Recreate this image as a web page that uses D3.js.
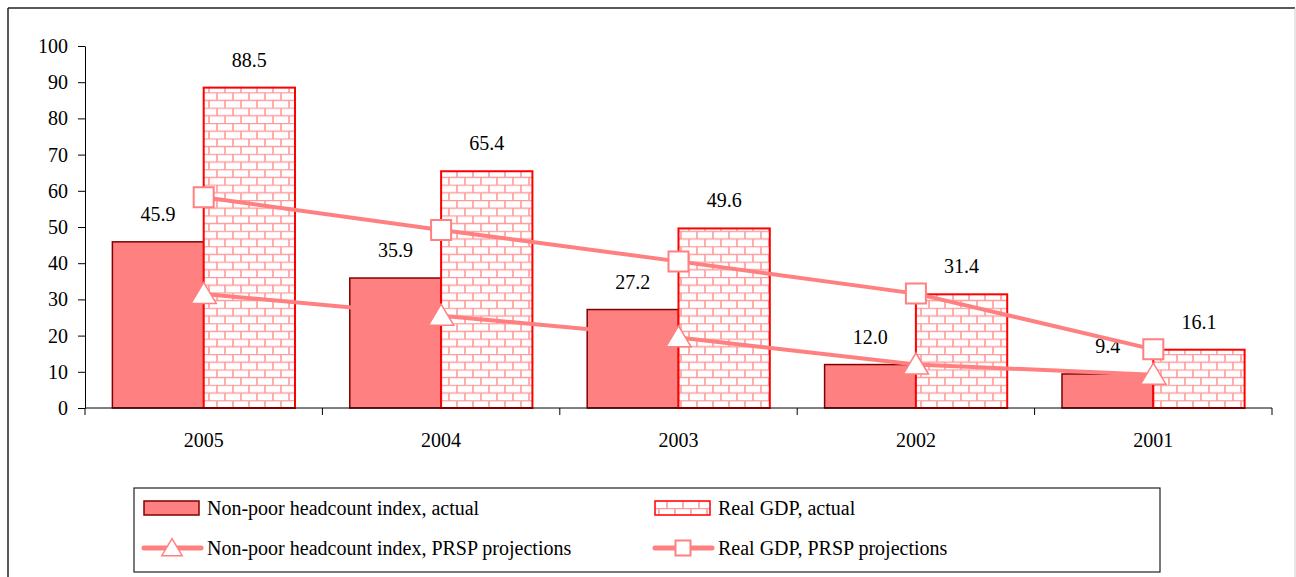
<!DOCTYPE html>
<html>
<head>
<meta charset="utf-8">
<script src="https://cdn.jsdelivr.net/npm/d3@7"></script>
<style>
  body { margin: 0; background: #fff; }
  #fig, #fig text { font-family: "Liberation Serif", "Times New Roman", serif !important; }
</style>
</head>
<body>
<svg id="fig" width="1296" height="577" font-family="Liberation Serif"></svg>
<script>
const years = ["2005", "2004", "2003", "2002", "2001"];
const nonPoorActual = [45.9, 35.9, 27.2, 12.0, 9.4];
const gdpActual = [88.5, 65.4, 49.6, 31.4, 16.1];
const nonPoorProj = [31.5, 25.5, 19.5, 12.0, 9.2];
const gdpProj = [58.2, 49.2, 40.5, 31.6, 16.2];
const yTicks = [0, 10, 20, 30, 40, 50, 60, 70, 80, 90, 100];

const svg = d3.select("#fig");
const margin = { top: 46, left: 85 };
const chartWidth = 1272 - margin.left;
const chartHeight = 408 - margin.top;

const lineColor = "#ff8080";

// all labels in a Times-like serif
function serif(sel) {
  sel.attr("font-size", 20).attr("fill", "#000")
    .attr("font-family", "Liberation Serif")
    .style("font-family", "\"Liberation Serif\"", "important");
}

// brick pattern for the GDP bars
const defs = svg.append("defs");
const brick = defs.append("pattern")
  .attr("id", "brick")
  .attr("patternUnits", "userSpaceOnUse")
  .attr("width", 16).attr("height", 15.4);
brick.append("rect").attr("width", 16).attr("height", 15.4).attr("fill", "#fff");
brick.append("path")
  .attr("d", "M0,0.5H16 M0,8.2H16 M4,0.5V8.2 M12,8.2V15.4")
  .attr("stroke", "#ff9a9a").attr("stroke-width", 1.6).attr("fill", "none");

// outer frame
svg.append("line").attr("x1", 8).attr("x2", 1295).attr("y1", 8).attr("y2", 8)
  .attr("stroke", "#222").attr("stroke-width", 1.5);
svg.append("line").attr("x1", 8).attr("x2", 8).attr("y1", 8).attr("y2", 577)
  .attr("stroke", "#222").attr("stroke-width", 1.5);
svg.append("line").attr("x1", 1295).attr("x2", 1295).attr("y1", 8).attr("y2", 577)
  .attr("stroke", "#ccc").attr("stroke-width", 1);

const g = svg.append("g")
  .attr("transform", `translate(${margin.left},${margin.top})`);

const x0 = d3.scaleBand().domain(years).range([0, chartWidth]);
const x1 = d3.scaleBand().domain(["np", "gdp"])
  .range([0, x0.bandwidth()]).paddingOuter(0.3).paddingInner(0);
const y = d3.scaleLinear().domain([0, 100]).range([chartHeight, 0]);

// bars
years.forEach((yr, i) => {
  const gx = x0(yr);
  g.append("rect")
    .attr("x", gx + x1("np"))
    .attr("y", y(nonPoorActual[i]))
    .attr("width", x1.bandwidth())
    .attr("height", chartHeight - y(nonPoorActual[i]))
    .attr("fill", "#ff8080")
    .attr("stroke", "#800000").attr("stroke-width", 1.5);
  g.append("rect")
    .attr("x", gx + x1("gdp"))
    .attr("y", y(gdpActual[i]))
    .attr("width", x1.bandwidth())
    .attr("height", chartHeight - y(gdpActual[i]))
    .attr("fill", "url(#brick)")
    .attr("stroke", "#ff0000").attr("stroke-width", 2);
  g.append("text")
    .attr("x", gx + x1("np") + x1.bandwidth() / 2)
    .attr("y", y(nonPoorActual[i]) - 21)
    .attr("text-anchor", "middle").call(serif)
    .text(nonPoorActual[i].toFixed(1));
  g.append("text")
    .attr("x", gx + x1("gdp") + x1.bandwidth() / 2)
    .attr("y", y(gdpActual[i]) - 21)
    .attr("text-anchor", "middle").call(serif)
    .text(gdpActual[i].toFixed(1));
});

// axes
const yAxis = g.append("g")
  .call(d3.axisLeft(y).tickValues(yTicks).tickSize(7).tickPadding(10).tickSizeOuter(0))
  .attr("font-family", "Liberation Serif").attr("font-size", 20);
yAxis.selectAll("text").call(serif);
yAxis.selectAll("line, path").attr("stroke", "#000");

const xAxis = g.append("g").attr("transform", `translate(0,${chartHeight})`);
xAxis.append("line").attr("x1", 0).attr("x2", chartWidth).attr("stroke", "#000");
xAxis.selectAll(".tk").data(d3.range(years.length + 1)).enter().append("line")
  .attr("x1", (d) => d * x0.bandwidth()).attr("x2", (d) => d * x0.bandwidth())
  .attr("y1", 0).attr("y2", 7).attr("stroke", "#000");
xAxis.selectAll(".lbl").data(years).enter().append("text")
  .attr("x", (d) => x0(d) + x0.bandwidth() / 2)
  .attr("y", 39)
  .attr("text-anchor", "middle").call(serif)
  .text((d) => d);

// projection lines
const cx = (yr) => x0(yr) + x0.bandwidth() / 2;
const line = d3.line().x((d) => cx(d[0])).y((d) => y(d[1]));

function triangle(sel, s) {
  sel.attr("d", `M0,${-s * 0.55}L${s * 0.6},${s * 0.45}L${-s * 0.6},${s * 0.45}Z`)
    .attr("fill", "#fff").attr("stroke", lineColor).attr("stroke-width", 1.5);
}
function square(sel, s) {
  sel.attr("d", `M${-s / 2},${-s / 2}h${s}v${s}h${-s}Z`)
    .attr("fill", "#fff").attr("stroke", lineColor).attr("stroke-width", 2);
}

g.append("path").datum(years.map((yr, i) => [yr, nonPoorProj[i]]))
  .attr("d", line).attr("fill", "none")
  .attr("stroke", lineColor).attr("stroke-width", 4);
g.append("path").datum(years.map((yr, i) => [yr, gdpProj[i]]))
  .attr("d", line).attr("fill", "none")
  .attr("stroke", lineColor).attr("stroke-width", 4);

years.forEach((yr, i) => {
  g.append("path")
    .attr("transform", `translate(${cx(yr)},${y(gdpProj[i])})`)
    .call(square, 20);
  g.append("path")
    .attr("transform", `translate(${cx(yr)},${y(nonPoorProj[i])})`)
    .call(triangle, 21);
});

// legend
const legend = svg.append("g");
legend.append("rect")
  .attr("x", 134).attr("y", 488).attr("width", 1026).attr("height", 84)
  .attr("fill", "#fff").attr("stroke", "#222").attr("stroke-width", 1.2);

const legendItems = [
  { label: "Non-poor headcount index, actual", kind: "bar", x: 144, y: 508 },
  { label: "Real GDP, actual", kind: "brick", x: 655, y: 508 },
  { label: "Non-poor headcount index, PRSP projections", kind: "tri", x: 144, y: 548 },
  { label: "Real GDP, PRSP projections", kind: "sq", x: 655, y: 548 }
];
legendItems.forEach((it) => {
  const lg = legend.append("g").attr("transform", `translate(${it.x},${it.y})`);
  if (it.kind === "bar") {
    lg.append("rect").attr("x", 0).attr("y", -7).attr("width", 55).attr("height", 14)
      .attr("fill", "#ff8080").attr("stroke", "#800000").attr("stroke-width", 1.5);
  } else if (it.kind === "brick") {
    lg.append("rect").attr("x", 0).attr("y", -7).attr("width", 55).attr("height", 14)
      .attr("fill", "url(#brick)").attr("stroke", "#ff0000").attr("stroke-width", 1.5);
  } else {
    lg.append("line").attr("x1", 0).attr("x2", 57).attr("y1", 0).attr("y2", 0)
      .attr("stroke", lineColor).attr("stroke-width", 5).attr("stroke-linecap", "round");
    lg.append("path").attr("transform", "translate(28,0)")
      .call(it.kind === "tri" ? triangle : square, it.kind === "tri" ? 17 : 15);
  }
  lg.append("text").attr("x", 63).attr("y", 7).call(serif).text(it.label);
});
</script>
</body>
</html>
